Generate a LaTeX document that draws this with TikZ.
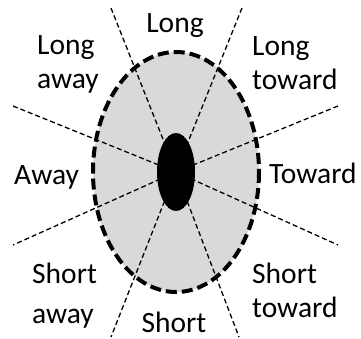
\documentclass[tikz,border=0pt]{standalone}
\usepackage{fontspec}
\setmainfont{Carlito}
\usetikzlibrary{positioning}
\definecolor{zonegray}{RGB}{217, 217, 217}

\begin{document}
\begin{tikzpicture}[x=1pt, y=-1pt,
        zone/.style={line width=1.3pt, dash pattern=on 5pt off 3pt},
        rim/.style={line width=4pt, dash pattern=on 11pt off 5pt},
        lbl/.style={anchor=base west, inner sep=0pt, align=left, font=\fontsize{29.5}{34}\selectfont}]
            \useasboundingbox (0,0) rectangle (361,339);
            \coordinate (c) at (176,172);

            % Outer area
            \fill[zonegray] (c) ellipse [x radius=83, y radius=120];

            % Direction lines
            \draw[zone] (111,8) -- (c) -- (239,337);
            \draw[zone] (242,8) -- (c) -- (111,337);
            \draw[zone] (13,106) -- (c) -- (338,245);
            \draw[zone] (338,106) -- (c) -- (13,245);

            % Rim and core
            \draw[rim] (c) ellipse [x radius=83, y radius=120];
            \fill[black] (c) ellipse [x radius=19, y radius=39];

            % Labels
            \node[lbl, anchor=base] (long) at (175,33) {Long};
            \node[lbl] (longaway) at (37,89) {Long\\away};
            \node[lbl] (longtoward) at (252,90) {Long\\toward};
            \node[lbl] (away) at (14,185) {Away};
            \node[lbl] (toward) at (269,183) {Toward};
            \node[lbl] (shortaway) at (32,323) {Short\\[6pt]away};
            \node[lbl] (shorttoward) at (252,317) {Short\\toward};
            \node[lbl, anchor=base] (short) at (174,332) {Short};
        \end{tikzpicture}
\end{document}
